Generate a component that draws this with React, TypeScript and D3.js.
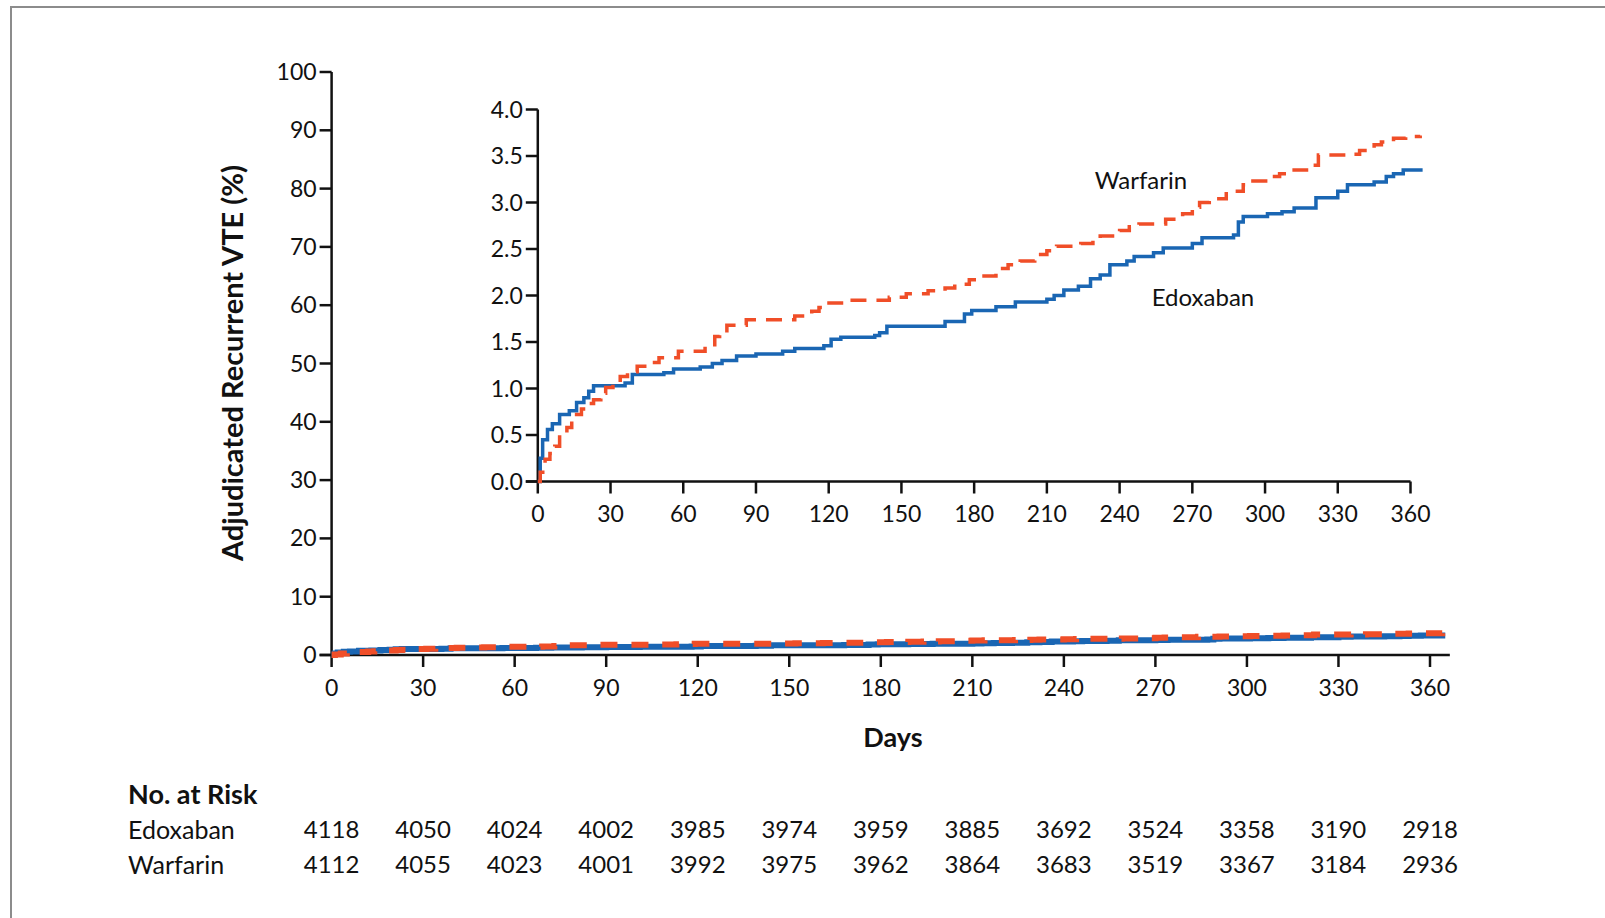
import React from "react";
import * as d3 from "d3";

// Kaplan-Meier step points (day, cumulative %)
const edoxabanDays = [0, 1, 2, 4, 6, 9, 13, 16, 19, 21, 23, 36, 39, 52, 56, 67, 72, 76, 82, 90, 101, 106, 118, 121, 125, 139, 141, 144, 168, 176, 179, 189, 197, 210, 213, 217, 223, 228, 232, 236, 243, 246, 254, 258, 270, 274, 287, 289, 291, 301, 307, 312, 321, 330, 334, 345, 350, 353, 357, 365];
const edoxabanRisk = [0, 0.25, 0.45, 0.56, 0.62, 0.72, 0.76, 0.85, 0.9, 0.97, 1.03, 1.06, 1.15, 1.17, 1.21, 1.23, 1.27, 1.3, 1.35, 1.37, 1.4, 1.43, 1.46, 1.53, 1.55, 1.57, 1.6, 1.67, 1.72, 1.8, 1.84, 1.88, 1.93, 1.96, 2.0, 2.06, 2.1, 2.18, 2.22, 2.33, 2.37, 2.42, 2.46, 2.51, 2.56, 2.62, 2.65, 2.79, 2.85, 2.88, 2.9, 2.94, 3.05, 3.12, 3.19, 3.22, 3.28, 3.31, 3.35, 3.35];

const warfarinDays = [0, 1, 3, 5, 7, 9, 12, 14, 16, 18, 21, 23, 26, 28, 31, 34, 37, 41, 45, 50, 58, 69, 73, 75, 78, 86, 106, 113, 116, 119, 127, 145, 152, 161, 168, 172, 178, 182, 189, 194, 199, 205, 210, 214, 224, 229, 232, 240, 244, 248, 259, 266, 270, 273, 277, 284, 291, 295, 301, 306, 312, 318, 322, 334, 339, 345, 348, 353, 358, 364];
const warfarinRisk = [0, 0.1, 0.24, 0.3, 0.38, 0.5, 0.58, 0.65, 0.72, 0.78, 0.84, 0.88, 0.95, 1.01, 1.07, 1.13, 1.18, 1.24, 1.28, 1.33, 1.4, 1.45, 1.56, 1.62, 1.68, 1.74, 1.78, 1.83, 1.87, 1.92, 1.95, 1.98, 2.02, 2.05, 2.08, 2.12, 2.17, 2.21, 2.29, 2.33, 2.37, 2.44, 2.48, 2.53, 2.56, 2.6, 2.64, 2.7, 2.74, 2.77, 2.82, 2.88, 2.95, 3.0, 3.04, 3.12, 3.19, 3.23, 3.28, 3.31, 3.35, 3.4, 3.51, 3.52, 3.56, 3.62, 3.65, 3.69, 3.71, 3.72];

const dayTicks = [0, 30, 60, 90, 120, 150, 180, 210, 240, 270, 300, 330, 360];
const mainYTicks = [0, 10, 20, 30, 40, 50, 60, 70, 80, 90, 100];
const insetYTicks = [0, 0.5, 1.0, 1.5, 2.0, 2.5, 3.0, 3.5, 4.0];

const riskEdoxaban = [4118, 4050, 4024, 4002, 3985, 3974, 3959, 3885, 3692, 3524, 3358, 3190, 2918];
const riskWarfarin = [4112, 4055, 4023, 4001, 3992, 3975, 3962, 3864, 3683, 3519, 3367, 3184, 2936];

const BLUE = "#1a66b3";
const RED = "#f04e28";
const FONT = "Lato, 'Liberation Sans', sans-serif";

const toPts = (days: number[], vals: number[]) => days.map((d, i) => [d, vals[i]] as [number, number]);

export default function App() {
  // main plot
  const x = d3.scaleLinear().domain([0, 360]).range([331.6, 1430]);
  const y = d3.scaleLinear().domain([0, 100]).range([655, 72]);
  // inset
  const xi = d3.scaleLinear().domain([0, 360]).range([537.8, 1410.5]);
  const yi = d3.scaleLinear().domain([0, 4]).range([481.5, 109.5]);

  const mainLine = d3.line<[number, number]>().x((d) => x(d[0])).y((d) => y(d[1])).curve(d3.curveStepAfter);
  const insetLine = d3.line<[number, number]>().x((d) => xi(d[0])).y((d) => yi(d[1])).curve(d3.curveStepAfter);

  const edo = toPts(edoxabanDays, edoxabanRisk);
  const war = toPts(warfarinDays, warfarinRisk);

  const axisW = 2.5;
  const fs = 23;

  return (
    <svg width={1605} height={918} style={{ position: "absolute", left: 0, top: 0, background: "#fff" }} fontFamily={FONT}>
      <rect x={0} y={0} width={1605} height={918} fill="#fff" />
      {/* frame */}
      <path d="M11,918 V7 H1605" fill="none" stroke="#8c8c8c" strokeWidth={2} />

      {/* main axes */}
      <line x1={x(0)} x2={x(0)} y1={y(100)} y2={y(0)} stroke="#111" strokeWidth={axisW} />
      <line x1={x(0) - 12} x2={x(366.5)} y1={y(0)} y2={y(0)} stroke="#111" strokeWidth={axisW} />
      {mainYTicks.map((t) => (
        <g key={"my" + t}>
          <line x1={x(0) - 12} x2={x(0)} y1={y(t)} y2={y(t)} stroke="#111" strokeWidth={axisW} />
          <text x={x(0) - 15} y={y(t)} dy="0.35em" textAnchor="end" fontSize={fs} fill="#111">{t}</text>
        </g>
      ))}
      {dayTicks.map((t) => (
        <g key={"mx" + t}>
          <line x1={x(t)} x2={x(t)} y1={y(0)} y2={y(0) + 12} stroke="#111" strokeWidth={axisW} />
          <text x={x(t)} y={688} dy="0.35em" textAnchor="middle" fontSize={fs} fill="#111">{t}</text>
        </g>
      ))}
      <text x={893} y={738} dy="0.35em" textAnchor="middle" fontSize={27} fontWeight="bold" fill="#111">Days</text>
      <text transform="translate(233,363) rotate(-90)" dy="0.35em" textAnchor="middle" fontSize={29} fontWeight="bold" fill="#111">
        Adjudicated Recurrent VTE (%)
      </text>

      {/* main curves */}
      <path d={mainLine(edo) || ""} fill="none" stroke={BLUE} strokeWidth={6} />
      <path d={mainLine(war) || ""} fill="none" stroke={RED} strokeWidth={6} strokeDasharray="17 14" />

      {/* inset axes */}
      <line x1={xi(0)} x2={xi(0)} y1={yi(4)} y2={yi(0)} stroke="#111" strokeWidth={axisW} />
      <line x1={xi(0) - 12} x2={xi(360)} y1={yi(0)} y2={yi(0)} stroke="#111" strokeWidth={axisW} />
      {insetYTicks.map((t) => (
        <g key={"iy" + t}>
          <line x1={xi(0) - 12} x2={xi(0)} y1={yi(t)} y2={yi(t)} stroke="#111" strokeWidth={axisW} />
          <text x={xi(0) - 15} y={yi(t)} dy="0.35em" textAnchor="end" fontSize={fs} fill="#111">{t.toFixed(1)}</text>
        </g>
      ))}
      {dayTicks.map((t) => (
        <g key={"ix" + t}>
          <line x1={xi(t)} x2={xi(t)} y1={yi(0)} y2={yi(0) + 12} stroke="#111" strokeWidth={axisW} />
          <text x={xi(t)} y={514} dy="0.35em" textAnchor="middle" fontSize={fs} fill="#111">{t}</text>
        </g>
      ))}

      {/* inset curves */}
      <path d={insetLine(edo) || ""} fill="none" stroke={BLUE} strokeWidth={3.5} />
      <path d={insetLine(war) || ""} fill="none" stroke={RED} strokeWidth={3.5} strokeDasharray="16 10" />
      <text x={1141} y={181} dy="0.35em" textAnchor="middle" fontSize={fs + 1} fill="#111">Warfarin</text>
      <text x={1203} y={298} dy="0.35em" textAnchor="middle" fontSize={fs + 1} fill="#111">Edoxaban</text>

      {/* number at risk */}
      <text x={128} y={795} dy="0.35em" fontSize={27} fontWeight="bold" fill="#111">No. at Risk</text>
      <text x={128} y={830} dy="0.35em" fontSize={fs + 2} fill="#111">Edoxaban</text>
      <text x={128} y={865} dy="0.35em" fontSize={fs + 2} fill="#111">Warfarin</text>
      {riskEdoxaban.map((n, i) => (
        <text key={"re" + i} x={x(dayTicks[i])} y={830} dy="0.35em" textAnchor="middle" fontSize={fs + 1} fill="#111">{n}</text>
      ))}
      {riskWarfarin.map((n, i) => (
        <text key={"rw" + i} x={x(dayTicks[i])} y={865} dy="0.35em" textAnchor="middle" fontSize={fs + 1} fill="#111">{n}</text>
      ))}
    </svg>
  );
}
